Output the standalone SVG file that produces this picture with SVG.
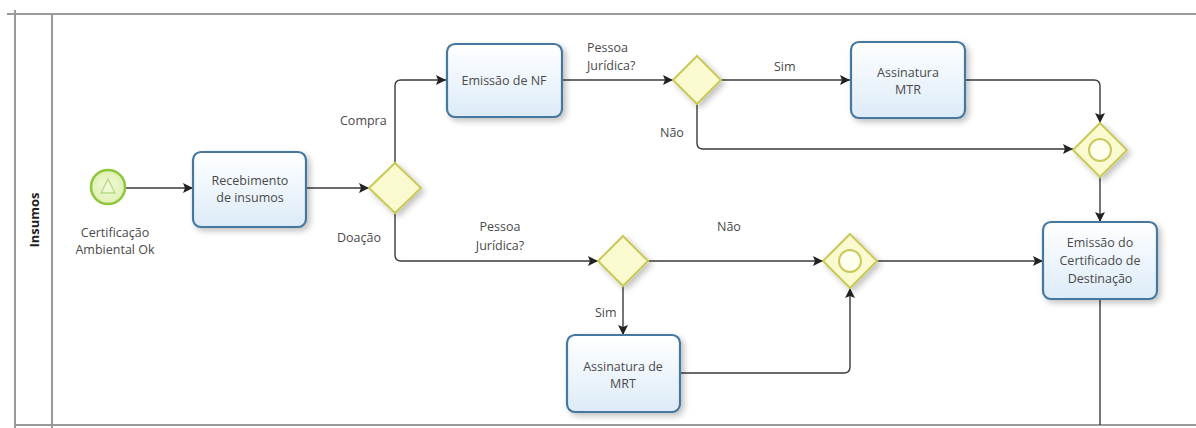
<svg xmlns="http://www.w3.org/2000/svg" width="1196" height="428" viewBox="0 0 1196 428">
  <defs>
    <linearGradient id="taskFill" x1="0" y1="0" x2="0" y2="1">
      <stop offset="0" stop-color="#ffffff"/>
      <stop offset="1" stop-color="#dcebf8"/>
    </linearGradient>
    <radialGradient id="startFill" cx="0.5" cy="0.5" r="0.5">
      <stop offset="0" stop-color="#f4fbe0"/>
      <stop offset="1" stop-color="#dff0b0"/>
    </radialGradient>
    <filter id="shadow" x="-20%" y="-20%" width="150%" height="150%">
      <feGaussianBlur in="SourceAlpha" stdDeviation="3"/>
      <feOffset dx="3" dy="3"/>
      <feComponentTransfer><feFuncA type="linear" slope="0.25"/></feComponentTransfer>
      <feMerge><feMergeNode/><feMergeNode in="SourceGraphic"/></feMerge>
    </filter>
    <marker id="arrow" viewBox="0 0 10 10" refX="10" refY="5" markerWidth="10" markerHeight="10" markerUnits="userSpaceOnUse" orient="auto">
      <path d="M0,0 L10,5 L0,10 L2,5 Z" fill="#222"/>
    </marker>
  </defs>
  <style>
    .pool { stroke: #9a9a9a; stroke-width: 2; fill: none; }
    .task { fill: url(#taskFill); stroke: #44779f; stroke-width: 2.2; filter: url(#shadow); }
    .gw { fill: #fafad0; stroke: #c9c95a; stroke-width: 2; filter: url(#shadow); }
    .gw-ring { fill: #fffff0; stroke: #c9c95a; stroke-width: 2; }
    .start { fill: url(#startFill); stroke: #8dc63f; stroke-width: 2.5; }
    .flow { fill: none; stroke: #3a3a3a; stroke-width: 1.4; marker-end: url(#arrow); }
    .line { fill: none; stroke: #3a3a3a; stroke-width: 1.4; }
    text { font-family: "Open Sans", "DejaVu Sans", sans-serif; font-size: 12.5px; fill: #4a4a4a; }
    .c { text-anchor: middle; }
    .lane { font-weight: bold; font-size: 13px; fill: #222; }
  </style>

  <!-- pool and lane -->
  <g id="pool">
    <line class="pool" x1="7" y1="14" x2="1196" y2="14"/>
    <line class="pool" x1="15" y1="10" x2="15" y2="428"/>
    <line class="pool" x1="52" y1="14" x2="52" y2="428"/>
    <line class="pool" x1="15" y1="425" x2="1196" y2="425"/>
    <text class="lane c" transform="translate(39 220) rotate(-90)">Insumos</text>
  </g>

  <!-- sequence flows -->
  <g id="connectors">
    <line class="flow" x1="126" y1="188" x2="193" y2="188"/>
    <line class="flow" x1="306" y1="188" x2="369" y2="188"/>
    <path class="flow" d="M395,163 V86 Q395,80 401,80 H446"/>
    <line class="flow" x1="562" y1="80" x2="673" y2="80"/>
    <line class="flow" x1="721" y1="80" x2="850" y2="80"/>
    <path class="flow" d="M965,80 H1094 Q1100,80 1100,86 V123"/>
    <path class="flow" d="M697,104 V143 Q697,149 703,149 H1073"/>
    <line class="flow" x1="1100" y1="177" x2="1100" y2="222"/>
    <path class="flow" d="M395,213 V255 Q395,261 401,261 H598"/>
    <line class="flow" x1="648" y1="261" x2="823" y2="261"/>
    <line class="flow" x1="877" y1="261" x2="1043" y2="261"/>
    <line class="flow" x1="623" y1="286" x2="623" y2="335"/>
    <path class="flow" d="M680,373 H844 Q850,373 850,367 V288"/>
    <line class="line" x1="1100" y1="299" x2="1100" y2="425"/>
  </g>

  <!-- flow labels -->
  <g id="flow-labels">
    <text x="340" y="125">Compra</text>
    <text x="337" y="242">Doação</text>
    <text x="587" y="52">Pessoa</text>
    <text x="587" y="70">Jurídica?</text>
    <text x="774" y="71">Sim</text>
    <text x="660" y="137">Não</text>
    <text class="c" x="500" y="231">Pessoa</text>
    <text class="c" x="500" y="250">Jurídica?</text>
    <text x="717" y="231">Não</text>
    <text x="595" y="317">Sim</text>
  </g>

  <g id="start">
    <circle class="start" cx="108" cy="187" r="17"/>
    <path d="M108,179 L115,193 H101 Z" fill="none" stroke="#b6db80" stroke-width="1.3"/>
    <text class="c" x="115" y="237">Certificação</text>
    <text class="c" x="115" y="254">Ambiental Ok</text>
  </g>

  <g id="recebimento">
    <rect class="task" x="193" y="152" width="113" height="75" rx="8"/>
    <text class="c" x="250" y="185">Recebimento</text>
    <text class="c" x="250" y="202">de insumos</text>
  </g>

  <g id="gw-tipo">
    <path class="gw" d="M395,163 L421,188 L395,213 L369,188 Z"/>
  </g>

  <g id="emissao-nf">
    <rect class="task" x="447" y="44" width="115" height="73" rx="8"/>
    <text class="c" x="504" y="85">Emissão de NF</text>
  </g>

  <g id="gw-pj-compra">
    <path class="gw" d="M697,56 L721,80 L697,104 L673,80 Z"/>
  </g>

  <g id="assinatura-mtr">
    <rect class="task" x="851" y="42" width="114" height="76" rx="8"/>
    <text class="c" x="908" y="77">Assinatura</text>
    <text class="c" x="908" y="94">MTR</text>
  </g>

  <g id="gw-join-compra">
    <path class="gw" d="M1100,123 L1127,150 L1100,177 L1073,150 Z"/>
    <circle class="gw-ring" cx="1100" cy="150" r="11"/>
  </g>

  <g id="gw-pj-doacao">
    <path class="gw" d="M623,236 L648,261 L623,286 L598,261 Z"/>
  </g>

  <g id="assinatura-mrt">
    <rect class="task" x="567" y="335" width="113" height="77" rx="8"/>
    <text class="c" x="623" y="371">Assinatura de</text>
    <text class="c" x="623" y="388">MRT</text>
  </g>

  <g id="gw-join-doacao">
    <path class="gw" d="M850,234 L877,261 L850,288 L823,261 Z"/>
    <circle class="gw-ring" cx="850" cy="261" r="11"/>
  </g>

  <g id="emissao-certificado">
    <rect class="task" x="1043" y="222" width="114" height="77" rx="8"/>
    <text class="c" x="1100" y="247">Emissão do</text>
    <text class="c" x="1100" y="265">Certificado de</text>
    <text class="c" x="1100" y="283">Destinação</text>
  </g>
</svg>
